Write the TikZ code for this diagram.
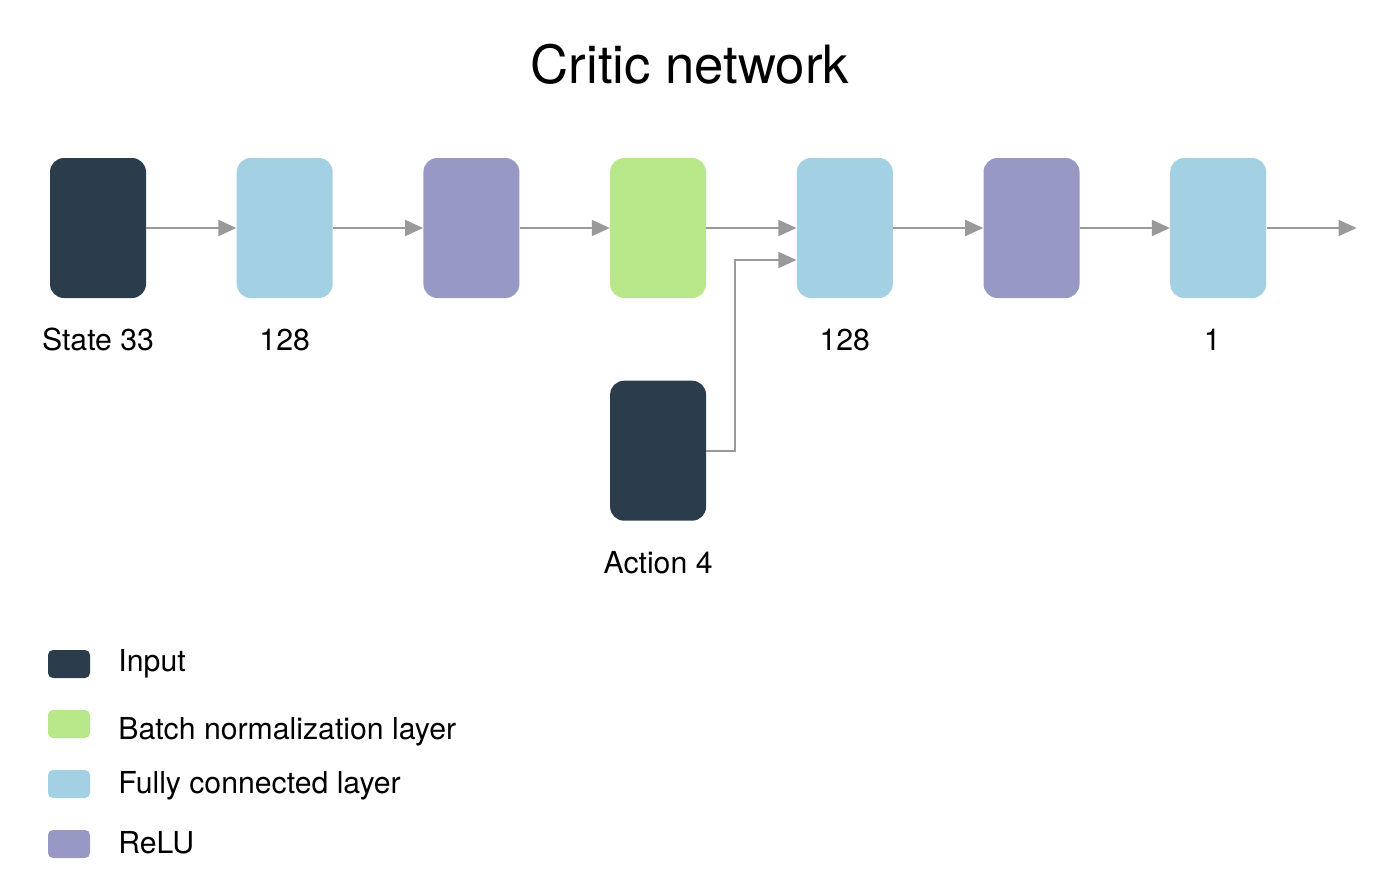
\documentclass[tikz,border=0pt]{standalone}
\usepackage{fontspec}
\setmainfont{TeX Gyre Heros}
\usepackage{xcolor}
\usetikzlibrary{positioning,arrows.meta,calc}

\definecolor{inpcol}{HTML}{2B3D4C}
\definecolor{fccol}{HTML}{A3D1E3}
\definecolor{relucol}{HTML}{9898C4}
\definecolor{bncol}{HTML}{B8E88A}
\definecolor{arrcol}{HTML}{999999}

\begin{document}
\begin{tikzpicture}[
        node distance=1.80cm,
        box/.style={
            rectangle, rounded corners=0.28cm, minimum width=1.92cm,
            minimum height=2.8cm, inner sep=0pt
        },
        inp/.style ={box, fill=inpcol},
        fc/.style  ={box, fill=fccol},
        relu/.style={box, fill=relucol},
        bn/.style  ={box, fill=bncol},
        key/.style ={rectangle, rounded corners=0.1cm, minimum width=0.84cm,
            minimum height=0.56cm, inner sep=0pt},
        arrow/.style ={-{Triangle[length=0.36cm, width=0.32cm]}, draw=arrcol, line width=1.1pt},
        lab/.style ={font=\fontsize{17.2}{20}\selectfont, inner sep=0pt, anchor=base}
    ]
        \useasboundingbox (0,0) rectangle (27.64,-17.84);

        \node[font=\fontsize{30}{36}\selectfont, inner sep=0pt, anchor=base] (T) at (13.8,-1.66) {Critic network};

        \node[inp] (S) at (1.96,-4.56) {};
        \node[fc,   right=of S]  (F1) {};
        \node[relu, right=of F1] (R1) {};
        \node[bn,   right=of R1] (B)  {};
        \node[fc,   right=of B]  (F2) {};
        \node[relu, right=of F2] (R2) {};
        \node[fc,   right=of R2] (F3) {};
        \node[inp,  below=1.64cm of B] (A) {};
        \coordinate (out) at ($(F3.east)+(1.8,0)$);

        \node[lab] (Sl)  at ($(S.south)+(0,-1.04)$)  {State 33};
        \node[lab] (F1l) at ($(F1.south)+(0,-1.04)$) {128};
        \node[lab] (F2l) at ($(F2.south)+(0,-1.04)$) {128};
        \node[lab] (F3l) at ($(F3.south)+(-0.12,-1.04)$) {1};
        \node[lab] (Al)  at ($(A.south)+(0,-1.04)$)  {Action 4};

        \draw[arrow] (S)  -- (F1);
        \draw[arrow] (F1) -- (R1);
        \draw[arrow] (R1) -- (B);
        \draw[arrow] (B)  -- (F2);
        \draw[arrow] (F2) -- (R2);
        \draw[arrow] (R2) -- (F3);
        \draw[arrow] (F3) -- (out);
        \draw[arrow] (A.east) -- ++(0.58,0) |- ($(F2.west)+(0,-0.64)$);

        % legend
        \node[key, fill=inpcol]  (K1) at (1.38,-13.28) {};
        \node[key, fill=bncol]   (K2) at (1.38,-14.48) {};
        \node[key, fill=fccol]   (K3) at (1.38,-15.68) {};
        \node[key, fill=relucol] (K4) at (1.38,-16.88) {};
        \node[lab, anchor=base west] (L1) at (2.36,-13.42) {Input};
        \node[lab, anchor=base west] (L2) at (2.36,-14.78) {Batch normalization layer};
        \node[lab, anchor=base west] (L3) at (2.36,-15.86) {Fully connected layer};
        \node[lab, anchor=base west] (L4) at (2.36,-17.06) {ReLU};
    \end{tikzpicture}
\end{document}
